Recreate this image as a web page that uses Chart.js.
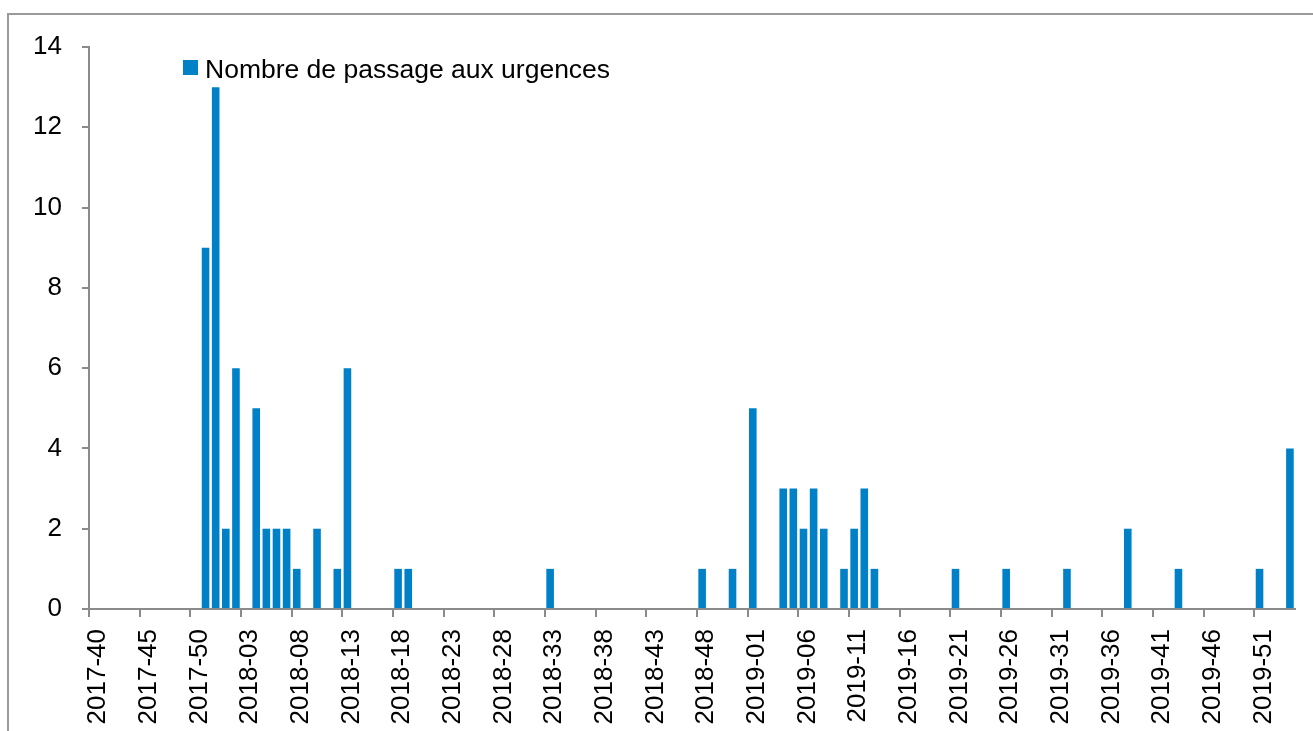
<!DOCTYPE html>
<html><head><meta charset="utf-8">
<script src="https://cdn.jsdelivr.net/npm/chart.js@4.4.0/dist/chart.umd.min.js"></script>
<style>html,body{margin:0;padding:0;background:#fff;overflow:hidden}
#wrap{position:relative;width:1313px;height:731px}</style>
</head><body><div id="wrap"><canvas id="c" width="1313" height="731"></canvas></div>
<script>
// Weeks shown on the axis (ISO year-week)
const years = [2017, 2018, 2019, 2020];
const firstWeeks = [40, 1, 1, 1];
const lastWeeks = [52, 52, 52, 2];
const weeks = [];
years.forEach((y, k) => {
  for (let w = firstWeeks[k]; w <= lastWeeks[k]; w++) weeks.push(y + '-' + String(w).padStart(2, '0'));
});
// Nombre de passages aux urgences par semaine (119 semaines)
const passages = [
  0,0,0,0,0,0,0,0,0,0,
  0,9,13,2,6,0,5,2,2,2,
  1,0,2,0,1,6,0,0,0,0,
  1,1,0,0,0,0,0,0,0,0,
  0,0,0,0,0,1,0,0,0,0,
  0,0,0,0,0,0,0,0,0,0,
  1,0,0,1,0,5,0,0,3,3,
  2,3,2,0,1,2,3,1,0,0,
  0,0,0,0,0,1,0,0,0,0,
  1,0,0,0,0,0,1,0,0,0,
  0,0,2,0,0,0,0,1,0,0,
  0,0,0,0,0,1,0,0,4
];
const seriesLabel = 'Nombre de passage aux urgences';
const yTickValues = [0, 2, 4, 6, 8, 10, 12, 14];
const labelEvery = 5;

const FONT = 'Liberation Sans, Arial, sans-serif';
const AXIS = '#8a8a8a';
const BLUE = '#0080C6';

const framePlugin = {
  id: 'frameAndLegend',
  afterDraw(chart) {
    const ctx = chart.ctx;
    ctx.save();
    ctx.strokeStyle = '#9a9a9a';
    ctx.lineWidth = 2;
    ctx.beginPath();
    ctx.moveTo(8, 740); ctx.lineTo(8, 14); ctx.lineTo(1320, 14);
    ctx.stroke();
    // legend
    const ds = chart.data.datasets[0];
    ctx.fillStyle = ds.backgroundColor;
    ctx.fillRect(183, 60, 15, 15);
    ctx.fillStyle = '#000';
    ctx.font = '26.5px ' + FONT;
    ctx.textBaseline = 'alphabetic';
    ctx.textAlign = 'left';
    ctx.fillText(ds.label, 205, 78);
    ctx.restore();
  }
};

new Chart(document.getElementById('c'), {
  type: 'bar',
  data: {
    labels: weeks,
    datasets: [{
      label: seriesLabel,
      data: passages,
      backgroundColor: BLUE,
      borderWidth: 0,
      categoryPercentage: 1,
      barPercentage: 0.75
    }]
  },
  options: {
    responsive: false,
    animation: false,
    layout: { padding: { top: 47, right: 18, left: 0, bottom: 0 } },
    plugins: { legend: { display: false }, tooltip: { enabled: false } },
    scales: {
      x: {
        type: 'category',
        offset: true,
        grid: {
          offset: true, drawOnChartArea: false, drawTicks: true, tickLength: 8, lineWidth: 2,
          color: c => (c.index !== undefined && c.index % labelEvery === 0) ? AXIS : 'rgba(0,0,0,0)'
        },
        border: { display: true, color: AXIS, width: 2 },
        ticks: {
          autoSkip: false, maxRotation: 90, minRotation: 90, padding: 12, labelOffset: 4, color: '#000',
          font: { family: FONT, size: 26 },
          callback: (v, i) => i % labelEvery === 0 ? weeks[i] : ''
        },
        afterFit: s => { s.height = 122; s.paddingLeft = 0; s.paddingRight = 0; }
      },
      y: {
        min: 0, max: 14,
        afterBuildTicks: s => { s.ticks = yTickValues.map(v => ({ value: v })); },
        grid: { drawOnChartArea: false, drawTicks: true, tickLength: 7, lineWidth: 2, color: AXIS },
        border: { display: true, color: AXIS, width: 2 },
        ticks: { padding: 20, color: '#000', font: { family: FONT, size: 26 } },
        afterFit: s => { s.width = 89; s.paddingTop = 0; s.paddingBottom = 0; }
      }
    }
  },
  plugins: [framePlugin]
});
</script></body></html>
